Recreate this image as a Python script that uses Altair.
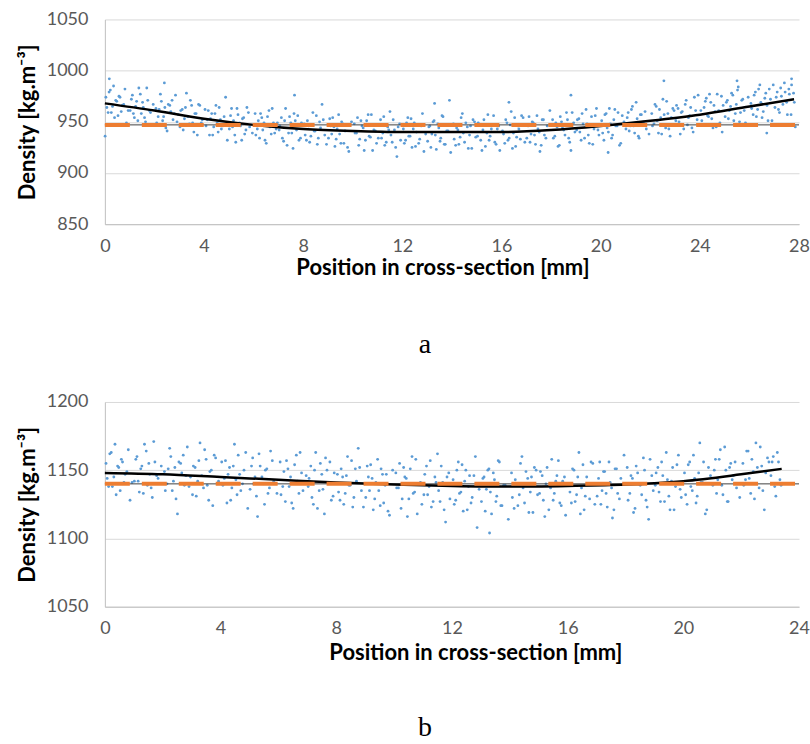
import altair as alt
import pandas as pd

# ---------------- Panel a data (first batch of scan points) ----------------
a_x = [
    0.04, 0.13, 0.22, 0.31, 0.39, 0.48, 0.57, 0.66, 0.76, 0.87, 0.18, 0.01,
    1.02, 1.11, 1.19, 1.28, 1.37, 1.47, 1.55, 1.64, 1.73, 1.84,
    2.06, 2.15, 2.24, 2.33, 2.42, 2.51, 2.62, 2.71, 2.80, 2.91, 2.40,
    3.03, 3.12, 3.21, 3.29, 3.41, 3.50, 3.59, 3.68, 3.78, 3.89,
    4.04, 4.13, 4.22, 4.31, 4.39, 4.48, 4.57, 4.66, 4.76, 4.87,
    5.02, 5.11, 5.19, 5.28, 5.37, 5.47, 5.55, 5.64, 5.73, 5.84,
    6.06, 6.15, 6.24, 6.33, 6.42, 6.51, 6.62, 6.71, 6.80, 6.91,
    7.03, 7.12, 7.21, 7.29, 7.41, 7.50, 7.59, 7.68, 7.78, 7.89, 7.65,
    8.04, 8.13, 8.22, 8.31, 8.39, 8.48, 8.57, 8.66, 8.76, 8.87,
    9.02, 9.11, 9.19, 9.28, 9.37, 9.47, 9.55, 9.64, 9.73, 9.84,
    10.06, 10.15, 10.24, 10.33, 10.42, 10.51, 10.62, 10.71, 10.80, 10.91,
    11.03, 11.12, 11.21, 11.29, 11.41, 11.50, 11.59, 11.68, 11.78, 11.89,
    12.04, 12.13, 12.22, 12.31, 12.39, 12.48, 12.57, 12.66, 12.76, 12.87,
    13.02, 13.11, 13.19, 13.28, 13.37, 13.47, 13.55, 13.64, 13.73, 13.84, 13.30, 13.90,
    14.06, 14.15, 14.24, 14.33, 14.42, 14.51, 14.62, 14.71, 14.80, 14.91,
    15.03, 15.12, 15.21, 15.29, 15.41, 15.50, 15.59, 15.68, 15.78, 15.89,
    16.04, 16.13, 16.22, 16.31, 16.39, 16.48, 16.57, 16.66, 16.76, 16.87, 16.30,
    17.02, 17.11, 17.19, 17.28, 17.37, 17.47, 17.55, 17.64, 17.73, 17.84,
    18.06, 18.15, 18.24, 18.33, 18.42, 18.51, 18.62, 18.71, 18.80, 18.91, 18.80,
    19.03, 19.12, 19.21, 19.29, 19.41, 19.50, 19.59, 19.68, 19.78, 19.89,
    20.04, 20.13, 20.22, 20.31, 20.39, 20.48, 20.57, 20.66, 20.76, 20.87, 20.30,
    21.02, 21.11, 21.19, 21.28, 21.37, 21.47, 21.55, 21.64, 21.73, 21.84,
    22.06, 22.15, 22.24, 22.33, 22.42, 22.51, 22.62, 22.71, 22.80, 22.91, 22.55,
    23.03, 23.12, 23.21, 23.29, 23.41, 23.50, 23.59, 23.68, 23.78, 23.89,
    24.04, 24.13, 24.22, 24.31, 24.39, 24.48, 24.57, 24.66, 24.76, 24.87, 24.90,
    25.02, 25.11, 25.19, 25.28, 25.37, 25.47, 25.55, 25.64, 25.73, 25.84, 25.50,
    26.06, 26.15, 26.24, 26.33, 26.42, 26.51, 26.62, 26.71, 26.80, 26.91, 26.70,
    27.03, 27.12, 27.21, 27.29, 27.41, 27.50, 27.59, 27.68, 27.78, 27.70, 27.85,
]
a_y = [
    974, 959, 981, 965, 954, 970, 975, 960, 967, 949, 992, 936,
    961, 976, 954, 970, 983, 958, 964, 950, 971, 959,
    963, 955, 977, 951, 964, 941, 966, 971, 958, 950, 988,
    945, 962, 953, 978, 948, 966, 940, 958, 967, 949,
    962, 952, 937, 958, 945, 966, 940, 952, 946, 974,
    943, 963, 951, 930, 957, 946, 953, 938, 964, 945,
    958, 943, 934, 954, 949, 929, 961, 938, 949, 943,
    942, 954, 931, 963, 939, 949, 924, 951, 956, 934, 976,
    948, 932, 946, 936, 959, 941, 928, 950, 967, 937,
    934, 946, 954, 926, 943, 938, 950, 929, 947, 921,
    948, 939, 927, 951, 944, 932, 957, 935, 922, 941,
    934, 952, 939, 927, 945, 960, 930, 942, 916, 948,
    943, 932, 954, 936, 925, 949, 940, 929, 946, 921,
    931, 946, 938, 951, 923, 944, 934, 955, 928, 941, 968, 971,
    948, 927, 942, 935, 958, 930, 945, 937, 924, 950,
    936, 947, 922, 952, 939, 932, 943, 956, 928, 946,
    941, 929, 949, 934, 960, 939, 926, 946, 933, 954, 969,
    934, 955, 938, 949, 928, 943, 921, 952, 937, 946,
    952, 936, 945, 927, 950, 942, 959, 934, 922, 949, 976,
    942, 953, 932, 948, 962, 937, 946, 928, 956, 942,
    951, 932, 958, 940, 948, 937, 962, 946, 927, 956, 920,
    943, 959, 946, 965, 939, 953, 934, 957, 950, 943,
    958, 948, 965, 939, 954, 972, 944, 958, 936, 963, 990,
    951, 963, 938, 960, 967, 947, 956, 944, 974, 952,
    961, 947, 970, 956, 977, 953, 966, 945, 961, 975, 940,
    955, 971, 961, 978, 951, 967, 984, 959, 972, 949, 990,
    968, 957, 979, 962, 986, 954, 973, 966, 982, 951, 939,
    964, 979, 959, 975, 988, 969, 982, 957, 978, 992, 945,
]
# second batch of scan points, panel a
a_x2 = [
    0.08, 0.17, 0.26, 0.35, 0.44, 0.53, 0.61, 0.70, 0.81, 0.94,
    1.07, 1.15, 1.24, 1.33, 1.43, 1.52, 1.60, 1.69, 1.79, 1.95,
    2.09, 2.19, 2.28, 2.37, 2.46, 2.56, 2.66, 2.75, 2.85, 2.96,
    3.06, 3.16, 3.25, 3.35, 3.45, 3.54, 3.63, 3.73, 3.83, 3.93,
    4.08, 4.17, 4.26, 4.35, 4.44, 4.53, 4.61, 4.70, 4.81, 4.94,
    5.07, 5.15, 5.24, 5.33, 5.43, 5.52, 5.60, 5.69, 5.79, 5.95,
    6.09, 6.19, 6.28, 6.37, 6.46, 6.56, 6.66, 6.75, 6.85, 6.96,
    7.06, 7.16, 7.25, 7.35, 7.45, 7.54, 7.63, 7.73, 7.83, 7.93,
    8.08, 8.17, 8.26, 8.35, 8.44, 8.53, 8.61, 8.70, 8.81, 8.94,
    9.07, 9.15, 9.24, 9.33, 9.43, 9.52, 9.60, 9.69, 9.79, 9.95,
    10.09, 10.19, 10.28, 10.37, 10.46, 10.56, 10.66, 10.75, 10.85, 10.96,
    11.06, 11.16, 11.25, 11.35, 11.45, 11.54, 11.63, 11.73, 11.83, 11.93,
    12.08, 12.17, 12.26, 12.35, 12.44, 12.53, 12.61, 12.70, 12.81, 12.94,
    13.07, 13.15, 13.24, 13.33, 13.43, 13.52, 13.60, 13.69, 13.79, 13.95,
    14.09, 14.19, 14.28, 14.37, 14.46, 14.56, 14.66, 14.75, 14.85, 14.96,
    15.06, 15.16, 15.25, 15.35, 15.45, 15.54, 15.63, 15.73, 15.83, 15.93,
    16.08, 16.17, 16.26, 16.35, 16.44, 16.53, 16.61, 16.70, 16.81, 16.94,
    17.07, 17.15, 17.24, 17.33, 17.43, 17.52, 17.60, 17.69, 17.79, 17.95,
    18.09, 18.19, 18.28, 18.37, 18.46, 18.56, 18.66, 18.75, 18.85, 18.96,
    19.06, 19.16, 19.25, 19.35, 19.45, 19.54, 19.63, 19.73, 19.83, 19.93,
    20.08, 20.17, 20.26, 20.35, 20.44, 20.53, 20.61, 20.70, 20.81, 20.94,
    21.07, 21.15, 21.24, 21.33, 21.43, 21.52, 21.60, 21.69, 21.79, 21.95,
    22.09, 22.19, 22.28, 22.37, 22.46, 22.56, 22.66, 22.75, 22.85, 22.96,
    23.06, 23.16, 23.25, 23.35, 23.45, 23.54, 23.63, 23.73, 23.83, 23.93,
    24.08, 24.17, 24.26, 24.35, 24.44, 24.53, 24.61, 24.70, 24.81, 24.94,
    25.07, 25.15, 25.24, 25.33, 25.43, 25.52, 25.60, 25.69, 25.79, 25.95,
    26.09, 26.19, 26.28, 26.37, 26.46, 26.56, 26.66, 26.75, 26.85, 26.96,
    27.08, 27.17, 27.26, 27.35, 27.44, 27.53, 27.61, 27.70, 27.81,
]
a_y2 = [
    964, 979, 959, 985, 971, 956, 974, 966, 982, 961,
    972, 958, 965, 951, 977, 969, 954, 983, 961, 967,
    949, 962, 970, 955, 944, 967, 960, 952, 976, 957,
    961, 942, 964, 955, 971, 949, 958, 937, 966, 952,
    946, 961, 953, 937, 958, 949, 964, 943, 955, 932,
    956, 945, 937, 963, 949, 932, 954, 942, 959, 939,
    937, 951, 958, 942, 932, 955, 945, 963, 939, 949,
    946, 934, 951, 927, 955, 939, 958, 942, 932, 949,
    937, 951, 930, 947, 941, 956, 934, 944, 952, 928,
    953, 938, 945, 933, 957, 929, 948, 941, 925, 950,
    939, 954, 933, 946, 922, 951, 936, 957, 942, 929,
    947, 934, 955, 930, 942, 937, 952, 925, 945, 932,
    929, 949, 936, 953, 943, 926, 947, 933, 958, 938,
    945, 925, 950, 937, 948, 931, 956, 928, 941, 920,
    933, 944, 928, 954, 939, 949, 924, 946, 952, 935,
    949, 932, 942, 926, 957, 936, 947, 930, 943, 922,
    938, 952, 932, 947, 924, 954, 935, 943, 956, 930,
    946, 930, 950, 937, 956, 940, 927, 952, 934, 961,
    934, 949, 926, 955, 944, 937, 952, 930, 959, 940,
    952, 940, 958, 934, 948, 929, 955, 943, 963, 937,
    939, 957, 944, 963, 934, 952, 946, 959, 929, 950,
    954, 941, 962, 946, 969, 936, 957, 949, 960, 938,
    946, 967, 951, 962, 938, 957, 970, 943, 954, 961,
    966, 950, 959, 943, 971, 954, 964, 940, 961, 976,
    951, 964, 973, 955, 969, 944, 960, 977, 949, 966,
    969, 953, 965, 976, 958, 981, 950, 971, 961, 974,
    963, 976, 955, 982, 969, 960, 978, 951, 972, 986,
    974, 962, 983, 967, 979, 957, 977, 986, 969,
]
a_fit_x = [0, 2, 4, 6, 8, 10, 12, 14, 16, 18, 20, 22, 24, 26, 27.8]
a_fit_y = [968, 961, 953, 947, 943, 941, 940, 940, 940, 942, 946, 951, 957, 965, 972]
a_mean = 947
a_ticks_x = [0, 4, 8, 12, 16, 20, 24, 28]
a_ticks_y = [850, 900, 950, 1000, 1050]

# ---------------- Panel b data ----------------
b_x = [
    0.04, 0.13, 0.22, 0.31, 0.39, 0.48, 0.57, 0.66, 0.76, 0.87,
    1.02, 1.11, 1.19, 1.28, 1.37, 1.47, 1.55, 1.64, 1.73, 1.84,
    2.06, 2.15, 2.24, 2.33, 2.42, 2.51, 2.62, 2.71, 2.80, 2.91,
    3.03, 3.12, 3.21, 3.29, 3.41, 3.50, 3.59, 3.68, 3.78, 3.89,
    4.04, 4.13, 4.22, 4.31, 4.39, 4.48, 4.57, 4.66, 4.76, 4.87,
    5.02, 5.11, 5.19, 5.28, 5.37, 5.47, 5.55, 5.64, 5.73, 5.84,
    6.06, 6.15, 6.24, 6.33, 6.42, 6.51, 6.62, 6.71, 6.80, 6.91,
    7.03, 7.12, 7.21, 7.29, 7.41, 7.50, 7.59, 7.68, 7.78, 7.89,
    8.04, 8.13, 8.22, 8.31, 8.39, 8.48, 8.57, 8.66, 8.76, 8.87,
    9.02, 9.11, 9.19, 9.28, 9.37, 9.47, 9.55, 9.64, 9.73, 9.84,
    10.06, 10.15, 10.24, 10.33, 10.42, 10.51, 10.62, 10.71, 10.80, 10.91,
    11.03, 11.12, 11.21, 11.29, 11.41, 11.50, 11.59, 11.68, 11.78, 11.89,
    12.04, 12.13, 12.22, 12.31, 12.39, 12.48, 12.57, 12.66, 12.76, 12.87,
    13.02, 13.11, 13.19, 13.28, 13.37, 13.47, 13.55, 13.64, 13.73, 13.84, 13.30,
    14.06, 14.15, 14.24, 14.33, 14.42, 14.51, 14.62, 14.71, 14.80, 14.91,
    15.03, 15.12, 15.21, 15.29, 15.41, 15.50, 15.59, 15.68, 15.78, 15.89,
    16.04, 16.13, 16.22, 16.31, 16.39, 16.48, 16.57, 16.66, 16.76, 16.87,
    17.02, 17.11, 17.19, 17.28, 17.37, 17.47, 17.55, 17.64, 17.73, 17.84,
    18.06, 18.15, 18.24, 18.33, 18.42, 18.51, 18.62, 18.71, 18.80, 18.91,
    19.03, 19.12, 19.21, 19.29, 19.41, 19.50, 19.59, 19.68, 19.78, 19.89,
    20.04, 20.13, 20.22, 20.31, 20.39, 20.48, 20.57, 20.66, 20.76, 20.87,
    21.02, 21.11, 21.19, 21.28, 21.37, 21.47, 21.55, 21.64, 21.73, 21.84,
    22.06, 22.15, 22.24, 22.33, 22.42, 22.51, 22.62, 22.71, 22.80, 22.91,
    23.03, 23.11, 23.20, 23.29, 23.38,
]
b_y = [
    1155, 1138, 1163, 1145, 1132, 1152, 1158, 1141, 1149, 1128,
    1142, 1160, 1134, 1153, 1169, 1139, 1147, 1130, 1156, 1144,
    1149, 1140, 1166, 1135, 1152, 1118, 1155, 1161, 1146, 1138,
    1132, 1152, 1142, 1170, 1137, 1158, 1128, 1150, 1161, 1140,
    1156, 1144, 1126, 1152, 1137, 1169, 1132, 1147, 1140, 1163,
    1136, 1159, 1145, 1116, 1153, 1140, 1150, 1133, 1164, 1142,
    1156, 1138, 1127, 1151, 1145, 1122, 1161, 1133, 1148, 1141,
    1138, 1153, 1125, 1163, 1135, 1147, 1118, 1150, 1156, 1131,
    1147, 1128, 1145, 1133, 1160, 1139, 1123, 1151, 1166, 1135,
    1130, 1145, 1154, 1121, 1141, 1135, 1151, 1126, 1147, 1117,
    1148, 1137, 1122, 1152, 1144, 1129, 1160, 1134, 1118, 1141,
    1132, 1153, 1138, 1123, 1145, 1162, 1127, 1141, 1112, 1148,
    1143, 1128, 1156, 1134, 1120, 1150, 1138, 1126, 1146, 1108,
    1127, 1145, 1136, 1151, 1118, 1143, 1131, 1156, 1124, 1139, 1104,
    1148, 1122, 1140, 1132, 1160, 1126, 1144, 1134, 1119, 1150,
    1133, 1146, 1116, 1152, 1137, 1128, 1142, 1157, 1124, 1145,
    1140, 1126, 1150, 1132, 1163, 1137, 1121, 1145, 1129, 1155,
    1131, 1156, 1135, 1149, 1123, 1141, 1115, 1151, 1133, 1144,
    1152, 1133, 1144, 1122, 1148, 1139, 1159, 1128, 1114, 1146,
    1139, 1152, 1127, 1146, 1163, 1131, 1142, 1121, 1154, 1136,
    1148, 1125, 1156, 1135, 1144, 1131, 1170, 1141, 1118, 1152,
    1139, 1158, 1143, 1165, 1132, 1150, 1127, 1155, 1146, 1137,
    1155, 1143, 1164, 1133, 1149, 1170, 1137, 1153, 1121, 1159,
    1146, 1160, 1131, 1156, 1139,
]
b_x2 = [
    0.08, 0.17, 0.26, 0.35, 0.44, 0.53, 0.61, 0.70, 0.81, 0.94,
    1.07, 1.15, 1.24, 1.33, 1.43, 1.52, 1.60, 1.69, 1.79, 1.95,
    2.09, 2.19, 2.28, 2.37, 2.46, 2.56, 2.66, 2.75, 2.85, 2.96,
    3.06, 3.16, 3.25, 3.35, 3.45, 3.54, 3.63, 3.73, 3.83, 3.93,
    4.08, 4.17, 4.26, 4.35, 4.44, 4.53, 4.61, 4.70, 4.81, 4.94,
    5.07, 5.15, 5.24, 5.33, 5.43, 5.52, 5.60, 5.69, 5.79, 5.95,
    6.09, 6.19, 6.28, 6.37, 6.46, 6.56, 6.66, 6.75, 6.85, 6.96,
    7.06, 7.16, 7.25, 7.35, 7.45, 7.54, 7.63, 7.73, 7.83, 7.93,
    8.08, 8.17, 8.26, 8.35, 8.44, 8.53, 8.61, 8.70, 8.81, 8.94,
    9.07, 9.15, 9.24, 9.33, 9.43, 9.52, 9.60, 9.69, 9.79, 9.95,
    10.09, 10.19, 10.28, 10.37, 10.46, 10.56, 10.66, 10.75, 10.85, 10.96,
    11.06, 11.16, 11.25, 11.35, 11.45, 11.54, 11.63, 11.73, 11.83, 11.93,
    12.08, 12.17, 12.26, 12.35, 12.44, 12.53, 12.61, 12.70, 12.81, 12.94,
    13.07, 13.15, 13.24, 13.33, 13.43, 13.52, 13.60, 13.69, 13.79, 13.95,
    14.09, 14.19, 14.28, 14.37, 14.46, 14.56, 14.66, 14.75, 14.85, 14.96,
    15.06, 15.16, 15.25, 15.35, 15.45, 15.54, 15.63, 15.73, 15.83, 15.93,
    16.08, 16.17, 16.26, 16.35, 16.44, 16.53, 16.61, 16.70, 16.81, 16.94,
    17.07, 17.15, 17.24, 17.33, 17.43, 17.52, 17.60, 17.69, 17.79, 17.95,
    18.09, 18.19, 18.28, 18.37, 18.46, 18.56, 18.66, 18.75, 18.85, 18.96,
    19.06, 19.16, 19.25, 19.35, 19.45, 19.54, 19.63, 19.73, 19.83, 19.93,
    20.08, 20.17, 20.26, 20.35, 20.44, 20.53, 20.61, 20.70, 20.81, 20.94,
    21.07, 21.15, 21.24, 21.33, 21.43, 21.52, 21.60, 21.69, 21.79, 21.95,
    22.09, 22.19, 22.28, 22.37, 22.46, 22.56, 22.66, 22.75, 22.85, 22.96,
    23.07, 23.16, 23.25, 23.34,
]
b_y2 = [
    1144, 1162, 1138, 1169, 1153, 1135, 1156, 1147, 1165, 1141,
    1158, 1142, 1151, 1133, 1164, 1155, 1137, 1171, 1146, 1153,
    1135, 1151, 1160, 1142, 1129, 1156, 1148, 1139, 1167, 1145,
    1153, 1131, 1157, 1146, 1165, 1139, 1149, 1124, 1159, 1142,
    1139, 1157, 1147, 1128, 1153, 1143, 1161, 1135, 1150, 1122,
    1153, 1140, 1131, 1162, 1145, 1125, 1151, 1137, 1157, 1133,
    1132, 1149, 1157, 1138, 1126, 1154, 1142, 1163, 1135, 1146,
    1144, 1130, 1150, 1122, 1155, 1136, 1159, 1140, 1128, 1148,
    1134, 1151, 1125, 1146, 1139, 1157, 1130, 1142, 1152, 1123,
    1153, 1135, 1144, 1129, 1158, 1124, 1147, 1139, 1120, 1150,
    1137, 1155, 1129, 1145, 1116, 1151, 1133, 1158, 1140, 1125,
    1147, 1132, 1157, 1127, 1141, 1135, 1153, 1121, 1145, 1129,
    1125, 1150, 1133, 1154, 1142, 1121, 1146, 1130, 1160, 1136,
    1144, 1120, 1150, 1134, 1148, 1127, 1157, 1124, 1139, 1114,
    1130, 1143, 1124, 1155, 1137, 1149, 1119, 1145, 1152, 1132,
    1149, 1128, 1140, 1121, 1158, 1133, 1146, 1126, 1142, 1117,
    1134, 1151, 1127, 1145, 1118, 1154, 1131, 1140, 1156, 1125,
    1144, 1125, 1149, 1133, 1156, 1137, 1121, 1151, 1129, 1161,
    1128, 1146, 1119, 1153, 1140, 1132, 1150, 1123, 1158, 1135,
    1148, 1134, 1156, 1127, 1143, 1121, 1152, 1138, 1161, 1130,
    1132, 1154, 1138, 1161, 1126, 1148, 1141, 1156, 1121, 1146,
    1150, 1133, 1158, 1139, 1167, 1127, 1152, 1143, 1156, 1130,
    1139, 1164, 1144, 1158, 1129, 1152, 1167, 1135, 1148, 1156,
    1156, 1138, 1163, 1143,
]
b_fit_x = [0, 2, 4, 6, 8, 10, 12, 14, 16, 18, 19, 20, 22, 23.4]
b_fit_y = [1148, 1147, 1145, 1143, 1141, 1139.5, 1138.5, 1138, 1138.5, 1139.5, 1140.5, 1142, 1147, 1151]
b_mean = 1140
b_ticks_x = [0, 4, 8, 12, 16, 20, 24]
b_ticks_y = [1050, 1100, 1150, 1200]

X_TITLE = "Position in cross-section [mm]"
Y_TITLE = "Density [kg.m⁻³]"


def panel(xs, ys, fx, fy, mean, xticks, yticks, title_x, title_pad, label):
    pts = pd.DataFrame({"x": xs, "y": ys})
    fit = pd.DataFrame({"x": fx, "y": fy})
    mean_df = pd.DataFrame({"x": [xticks[0]], "x2": [xticks[-1]], "y": [mean]})
    xenc = alt.X(
        "x:Q",
        scale=alt.Scale(domain=[xticks[0], xticks[-1]], nice=False, zero=False),
        axis=alt.Axis(values=xticks, title=X_TITLE, grid=False, titleX=title_x, format="d",
                      labelPadding=13, titlePadding=title_pad, labelFlush=False),
    )
    yenc = alt.Y(
        "y:Q",
        scale=alt.Scale(domain=[yticks[0], yticks[-1]], nice=False, zero=False),
        axis=alt.Axis(values=yticks, title=Y_TITLE, grid=True, labelPadding=17, format="d",
                      titlePadding=7),
    )
    points = alt.Chart(pts).mark_circle(size=8, color="#5B9BD5", opacity=1).encode(x=xenc, y=yenc)
    thin = alt.Chart(mean_df).mark_rule(color="#404040", strokeWidth=1).encode(x=xenc, x2="x2:Q", y=yenc)
    dashed = alt.Chart(mean_df).mark_rule(color="#ED7D31", strokeWidth=4, strokeDash=[25, 12]).encode(
        x=xenc, x2="x2:Q", y=yenc)
    line = alt.Chart(fit).mark_line(color="black", strokeWidth=2.5, interpolate="monotone").encode(x=xenc, y=yenc)
    return alt.layer(points, thin, line, dashed).properties(
        width=695,
        height=205,
        title=alt.TitleParams(text=label, orient="bottom", font="Liberation Serif", fontSize=28,
                              fontWeight="normal", color="black", anchor="middle", frame="group",
                              dx=-27, offset=55 - title_pad),
    )


pa = panel(a_x + a_x2, a_y + a_y2, a_fit_x, a_fit_y, a_mean, a_ticks_x, a_ticks_y, 338, 2, "a")
pb = panel(b_x + b_x2, b_y + b_y2, b_fit_x, b_fit_y, b_mean, b_ticks_x, b_ticks_y, 371, 5, "b")

chart = alt.vconcat(pa, pb, spacing=34).properties(
    padding={"left": 16, "top": 10, "right": 0, "bottom": 0}
).configure_axis(
    labelFont="Lato", labelFontSize=18, labelColor="#595959",
    titleFont="Lato", titleFontSize=22, titleFontWeight="bold", titleColor="black",
    gridColor="#d9d9d9", domainColor="#bfbfbf", ticks=False,
).configure_view(stroke=None).configure_title(font="Liberation Serif")

chart.save("out.html", embed_options={"renderer": "svg", "actions": False})
